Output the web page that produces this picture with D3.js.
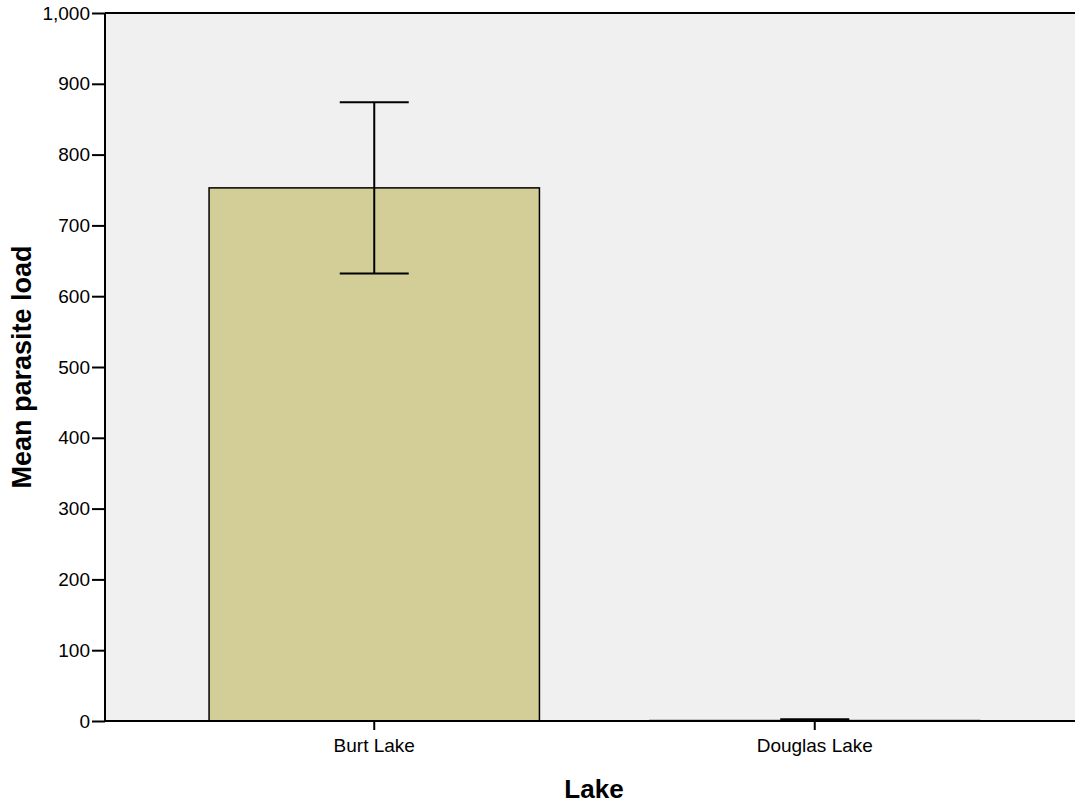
<!DOCTYPE html>
<html><head><meta charset="utf-8">
<script src="https://cdn.jsdelivr.net/npm/d3@7"></script>
<style>body{margin:0;background:#fff}svg{display:block}text{font-family:"Liberation Sans",Arial,sans-serif}</style>
</head><body>
<script>
const categories = ["Burt Lake", "Douglas Lake"];
const means = [753, 1.5];
const errLow = [632, 0.5];
const errHigh = [874, 2.5];
const yTicks = [0,100,200,300,400,500,600,700,800,900,1000];

(function(){
const W = 1075, H = 805;
const pL = 105, pT = 13, pR = 1075, pB = 721;
const svg = d3.select("body").append("svg").attr("width", W).attr("height", H);

const y = d3.scaleLinear().domain([0, 1000]).range([pB, pT]);
const x = d3.scaleBand().domain(categories).range([154, 1035]).paddingInner(0.25).paddingOuter(0.125);

svg.append("rect").attr("x", pL).attr("y", pT).attr("width", pR-pL).attr("height", pB-pT).attr("fill", "#f0f0f0");

const data = categories.map((c,i)=>({c, m:means[i], lo:errLow[i], hi:errHigh[i]}));

svg.selectAll("rect.bar").data(data).enter().append("rect").attr("class","bar")
  .attr("x", d=>x(d.c)).attr("width", x.bandwidth())
  .attr("y", d=>y(d.m)).attr("height", d=>y(0)-y(d.m))
  .attr("fill", "#d3ce98").attr("stroke", "#000").attr("stroke-width", d=>d.m>10?1.5:0.8)
  .attr("stroke-opacity", d=>d.m>10?1:0.4);

const cx = d=>x(d.c)+x.bandwidth()/2;
const capW = 34.5;
const eb = svg.selectAll("g.eb").data(data).enter().append("g").attr("stroke","#000").attr("stroke-width",2);
eb.append("line").attr("x1",cx).attr("x2",cx).attr("y1",d=>y(d.lo)).attr("y2",d=>y(d.hi));
eb.append("line").attr("x1",d=>cx(d)-capW).attr("x2",d=>cx(d)+capW).attr("y1",d=>y(d.lo)).attr("y2",d=>y(d.lo));
eb.append("line").attr("x1",d=>cx(d)-capW).attr("x2",d=>cx(d)+capW).attr("y1",d=>y(d.hi)).attr("y2",d=>y(d.hi));

svg.append("line").attr("x1",pL).attr("x2",pR).attr("y1",pT).attr("y2",pT).attr("stroke","#000").attr("stroke-width",2);

const yAxis = svg.append("g").attr("transform",`translate(${pL},0)`)
  .call(d3.axisLeft(y).tickValues(yTicks).tickFormat(d3.format(",")).tickSize(13).tickPadding(2));
yAxis.select(".domain").attr("stroke-width",2).attr("d",`M0,${pB}V${pT}`);
yAxis.selectAll(".tick line").attr("stroke-width",2);
yAxis.selectAll("text").attr("font-size",19).attr("fill","#000");

const xAxis = svg.append("g").attr("transform",`translate(0,${pB})`)
  .call(d3.axisBottom(x).tickSize(9).tickPadding(9));
xAxis.select(".domain").attr("stroke-width",2).attr("d",`M${pL},0H${pR}`);
xAxis.selectAll(".tick line").attr("stroke-width",2);
xAxis.selectAll("text").attr("font-size",19).attr("fill","#000");

svg.append("text").attr("x",594).attr("y",798).attr("text-anchor","middle")
  .attr("font-size",26).attr("font-weight","bold").text("Lake");
svg.append("text").attr("transform","translate(31,367) rotate(-90)").attr("text-anchor","middle")
  .attr("font-size",27).attr("font-weight","bold").text("Mean parasite load");
})();
</script>
</body></html>
